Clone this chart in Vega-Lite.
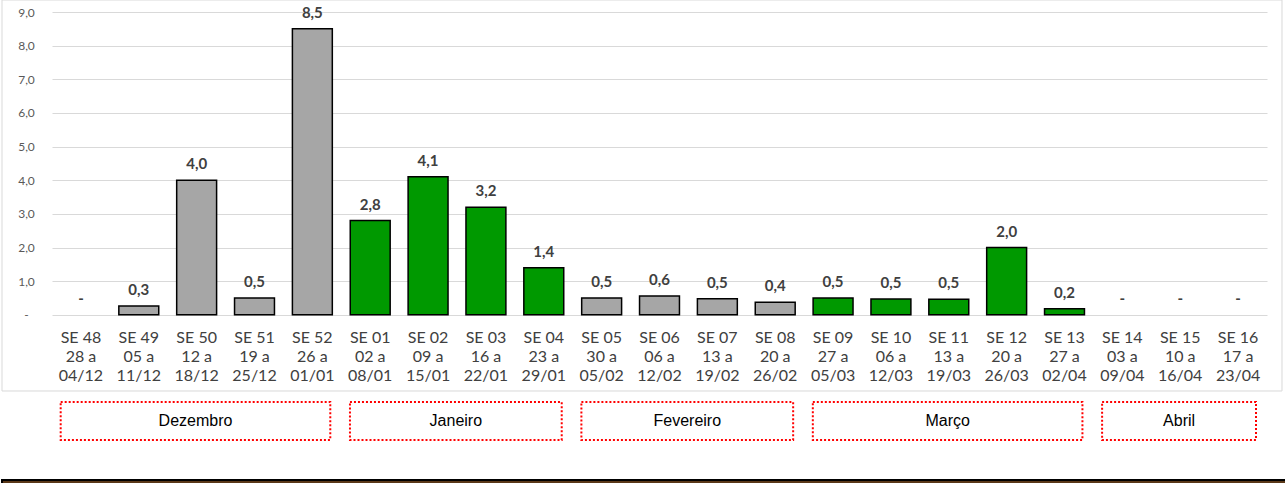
{
  "$schema": "https://vega.github.io/schema/vega-lite/v6.json",
  "width": 1215,
  "height": 471,
  "autosize": {"type": "none"},
  "padding": {"left": 52, "top": 12, "right": 18, "bottom": 0},
  "background": "white",
  "config": {"view": {"stroke": null}},
  "datasets": {
    "semanas": [
      {"rotulo": "SE 48\n28 a\n04/12", "valor": 0, "grupo": "cinza"},
      {"rotulo": "SE 49\n05 a\n11/12", "valor": 0.26, "grupo": "cinza"},
      {"rotulo": "SE 50\n12 a\n18/12", "valor": 4.0, "grupo": "cinza"},
      {"rotulo": "SE 51\n19 a\n25/12", "valor": 0.5, "grupo": "cinza"},
      {"rotulo": "SE 52\n26 a\n01/01", "valor": 8.5, "grupo": "cinza"},
      {"rotulo": "SE 01\n02 a\n08/01", "valor": 2.8, "grupo": "verde"},
      {"rotulo": "SE 02\n09 a\n15/01", "valor": 4.1, "grupo": "verde"},
      {"rotulo": "SE 03\n16 a\n22/01", "valor": 3.2, "grupo": "verde"},
      {"rotulo": "SE 04\n23 a\n29/01", "valor": 1.4, "grupo": "verde"},
      {"rotulo": "SE 05\n30 a\n05/02", "valor": 0.5, "grupo": "cinza"},
      {"rotulo": "SE 06\n06 a\n12/02", "valor": 0.56, "grupo": "cinza"},
      {"rotulo": "SE 07\n13 a\n19/02", "valor": 0.48, "grupo": "cinza"},
      {"rotulo": "SE 08\n20 a\n26/02", "valor": 0.37, "grupo": "cinza"},
      {"rotulo": "SE 09\n27 a\n05/03", "valor": 0.5, "grupo": "verde"},
      {"rotulo": "SE 10\n06 a\n12/03", "valor": 0.47, "grupo": "verde"},
      {"rotulo": "SE 11\n13 a\n19/03", "valor": 0.46, "grupo": "verde"},
      {"rotulo": "SE 12\n20 a\n26/03", "valor": 2.0, "grupo": "verde"},
      {"rotulo": "SE 13\n27 a\n02/04", "valor": 0.18, "grupo": "verde"},
      {"rotulo": "SE 14\n03 a\n09/04", "valor": 0, "grupo": "cinza"},
      {"rotulo": "SE 15\n10 a\n16/04", "valor": 0, "grupo": "cinza"},
      {"rotulo": "SE 16\n17 a\n23/04", "valor": 0, "grupo": "cinza"}
    ],
    "meses": [
      {"mes": "Dezembro", "primeira": 0, "ultima": 4},
      {"mes": "Janeiro", "primeira": 5, "ultima": 8},
      {"mes": "Fevereiro", "primeira": 9, "ultima": 12},
      {"mes": "Março", "primeira": 13, "ultima": 17},
      {"mes": "Abril", "primeira": 18, "ultima": 20}
    ]
  },
  "layer": [
    {
      "layer": [
        {
          "data": {"values": [{}]},
          "mark": {"type": "rect", "fillOpacity": 0, "stroke": "#D9D9D9", "strokeWidth": 1},
          "encoding": {
            "x": {"datum": -0.864, "type": "quantitative", "scale": {"domain": [0, 21], "nice": false, "zero": false}, "axis": null},
            "x2": {"datum": 21.259},
            "y": {"datum": 9.357, "type": "quantitative", "scale": {"domain": [-5, 9], "nice": false, "zero": false}, "title": null},
            "y2": {"datum": -2.265}
          }
        },
        {
          "data": {"name": "meses"},
          "transform": [
            {"calculate": "datum.primeira + 0.15", "as": "x0"},
            {"calculate": "datum.ultima + 0.81", "as": "x1"},
            {"calculate": "(datum.x0 + datum.x1) / 2", "as": "xm"}
          ],
          "layer": [
            {
              "mark": {"type": "rect", "fillOpacity": 0, "stroke": "#FF0000", "strokeWidth": 2, "strokeDash": [2, 2]},
              "encoding": {
                "x": {"field": "x0", "type": "quantitative", "scale": {"domain": [0, 21], "nice": false, "zero": false}, "axis": null},
                "x2": {"field": "x1"},
                "y": {"datum": -2.592, "type": "quantitative", "scale": {"domain": [-5, 9], "nice": false, "zero": false}, "title": null},
                "y2": {"datum": -3.722}
              }
            },
            {
              "mark": {"type": "text", "font": "Liberation Sans", "fontSize": 16, "fill": "#000000", "align": "center", "baseline": "middle"},
              "encoding": {
                "x": {"field": "xm", "type": "quantitative", "scale": {"domain": [0, 21], "nice": false, "zero": false}, "axis": null},
                "y": {"datum": -3.157, "type": "quantitative", "scale": {"domain": [-5, 9], "nice": false, "zero": false}, "title": null},
                "text": {"field": "mes"}
              }
            }
          ]
        },
        {
          "data": {"values": [{}]},
          "mark": {"type": "rect", "fill": "#5A3818", "stroke": "#000000", "strokeWidth": 2},
          "encoding": {
            "x": {"datum": -0.864, "type": "quantitative", "scale": {"domain": [0, 21], "nice": false, "zero": false}, "axis": null},
            "x2": {"datum": 22.5},
            "y": {"datum": -4.911, "type": "quantitative", "scale": {"domain": [-5, 9], "nice": false, "zero": false}, "title": null},
            "y2": {"datum": -5.4}
          }
        }
      ]
    },
    {
      "data": {"name": "semanas"},
      "transform": [
        {"calculate": "datum.valor == 0 ? '-' : replace(format(datum.valor, '.1f'), '.', ',')", "as": "texto"}
      ],
      "layer": [
        {
          "transform": [{"filter": "datum.valor > 0"}],
          "mark": {"type": "bar", "stroke": "#000000", "strokeWidth": 1.5},
          "encoding": {
            "x": {
              "field": "rotulo",
              "type": "nominal",
              "sort": null,
              "scale": {
                "domain": ["SE 48\n28 a\n04/12", "SE 49\n05 a\n11/12", "SE 50\n12 a\n18/12", "SE 51\n19 a\n25/12", "SE 52\n26 a\n01/01", "SE 01\n02 a\n08/01", "SE 02\n09 a\n15/01", "SE 03\n16 a\n22/01", "SE 04\n23 a\n29/01", "SE 05\n30 a\n05/02", "SE 06\n06 a\n12/02", "SE 07\n13 a\n19/02", "SE 08\n20 a\n26/02", "SE 09\n27 a\n05/03", "SE 10\n06 a\n12/03", "SE 11\n13 a\n19/03", "SE 12\n20 a\n26/03", "SE 13\n27 a\n02/04", "SE 14\n03 a\n09/04", "SE 15\n10 a\n16/04", "SE 16\n17 a\n23/04"],
                "paddingInner": 0.31,
                "paddingOuter": 0.155
              },
              "axis": {
                "title": null,
                "orient": "bottom",
                "offset": -168,
                "domain": false,
                "ticks": false,
                "labelAngle": 0,
                "labelFont": "Lato",
                "labelFontSize": 16,
                "labelColor": "#404040",
                "labelLineHeight": 19,
                "labelPadding": 14,
                "labelBaseline": "top",
                "labelAlign": "center",
                "labelExpr": "split(datum.value, '\\n')"
              }
            },
            "y": {
              "field": "valor",
              "type": "quantitative",
              "scale": {"domain": [-5, 9], "nice": false, "zero": false},
              "title": null,
              "axis": {
                "values": [0, 1, 2, 3, 4, 5, 6, 7, 8, 9],
                "domain": false,
                "ticks": false,
                "grid": true,
                "gridColor": "#D9D9D9",
                "gridWidth": 1,
                "labelFont": "Lato",
                "labelFontSize": 12,
                "labelColor": "#595959",
                "labelAlign": "center",
                "labelPadding": 26,
                "labelExpr": "datum.value == 0 ? '-' : replace(format(datum.value, '.1f'), '.', ',')"
              }
            },
            "color": {
              "field": "grupo",
              "type": "nominal",
              "scale": {"domain": ["cinza", "verde"], "range": ["#A6A6A6", "#009900"]},
              "legend": null
            }
          }
        },
        {
          "mark": {"type": "text", "dy": -11, "font": "Lato", "fontWeight": "bold", "fontSize": 15, "fill": "#404040", "baseline": "alphabetic", "align": "center"},
          "encoding": {
            "x": {"field": "rotulo", "type": "nominal", "sort": null, "title": null},
            "y": {"field": "valor", "type": "quantitative", "scale": {"domain": [-5, 9], "nice": false, "zero": false}, "title": null},
            "text": {"field": "texto"}
          }
        }
      ]
    }
  ],
  "resolve": {"scale": {"x": "independent"}}
}
